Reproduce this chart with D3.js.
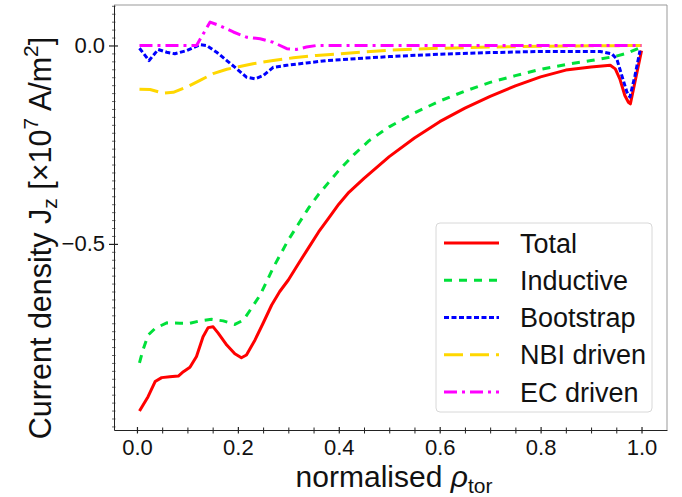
<!DOCTYPE html>
<html>
<head>
<meta charset="utf-8">
<script src="https://cdn.jsdelivr.net/npm/d3@7"></script>
<style>
  html, body { margin: 0; padding: 0; background: #fff; }
  svg { display: block; font-family: "Liberation Sans", Arial, sans-serif; }
</style>
</head>
<body>
<svg id="chart" width="682" height="497"></svg>
<script>
// ---------------- data ----------------
const seriesNames = ["Total", "Inductive", "Bootstrap", "NBI driven", "EC driven"];

const totalRho = [0.005,0.022,0.036,0.049,0.065,0.082,0.092,0.105,0.118,0.131,0.141,0.151,0.161,0.178,0.194,0.207,0.217,0.234,0.25,0.267,0.283,0.30,0.32,0.34,0.36,0.38,0.40,0.42,0.45,0.50,0.55,0.60,0.65,0.70,0.75,0.80,0.85,0.90,0.938,0.948,0.957,0.967,0.974,0.978,0.987,1.0];
const totalJ   = [-0.921,-0.885,-0.847,-0.837,-0.835,-0.833,-0.822,-0.811,-0.784,-0.734,-0.711,-0.709,-0.725,-0.755,-0.777,-0.787,-0.78,-0.742,-0.70,-0.654,-0.62,-0.591,-0.55,-0.51,-0.47,-0.435,-0.40,-0.37,-0.335,-0.28,-0.233,-0.192,-0.158,-0.128,-0.102,-0.079,-0.062,-0.054,-0.05,-0.059,-0.084,-0.126,-0.143,-0.147,-0.092,-0.013];

const inductiveRho = [0.005,0.012,0.022,0.036,0.059,0.085,0.105,0.125,0.148,0.171,0.194,0.211,0.227,0.244,0.257,0.27,0.285,0.30,0.32,0.34,0.36,0.38,0.40,0.43,0.46,0.50,0.55,0.60,0.65,0.70,0.75,0.80,0.85,0.90,0.95,0.97,1.0];
const inductiveJ   = [-0.80,-0.767,-0.73,-0.713,-0.699,-0.70,-0.70,-0.694,-0.69,-0.694,-0.703,-0.692,-0.662,-0.629,-0.595,-0.56,-0.525,-0.49,-0.45,-0.41,-0.375,-0.345,-0.315,-0.275,-0.24,-0.205,-0.17,-0.14,-0.115,-0.093,-0.076,-0.06,-0.048,-0.038,-0.027,-0.02,-0.004];

const bootstrapRho = [0.005,0.024,0.042,0.059,0.075,0.098,0.125,0.138,0.158,0.178,0.198,0.217,0.234,0.25,0.27,0.297,0.336,0.376,0.402,0.45,0.5,0.6,0.7,0.8,0.918,0.941,0.951,0.961,0.971,0.977,0.987,0.997];
const bootstrapJ   = [-0.007,-0.038,-0.01,-0.017,-0.021,-0.013,0.002,0,-0.017,-0.038,-0.059,-0.08,-0.084,-0.076,-0.055,-0.05,-0.044,-0.038,-0.036,-0.032,-0.028,-0.022,-0.018,-0.015,-0.015,-0.021,-0.034,-0.076,-0.117,-0.130,-0.076,-0.013];

const nbiRho = [0.005,0.026,0.052,0.072,0.098,0.125,0.151,0.178,0.204,0.23,0.27,0.31,0.356,0.40,0.45,0.50,0.60,0.70,0.80,0.90,1.0];
const nbiJ   = [-0.11,-0.111,-0.12,-0.118,-0.105,-0.088,-0.071,-0.06,-0.053,-0.046,-0.038,-0.031,-0.025,-0.021,-0.016,-0.012,-0.007,-0.004,-0.002,-0.001,0];

const ecRho = [0.005,0.118,0.145,0.164,0.191,0.217,0.244,0.27,0.297,0.316,0.336,0.356,1.0];
const ecJ   = [0,0,0.059,0.05,0.034,0.021,0.017,0.008,-0.008,-0.01,-0.004,0,0];

const xTickValues = [0, 0.2, 0.4, 0.6, 0.8, 1.0];
const yTickValues = [0, -0.5];

// ---------------- layout ----------------
const svg = d3.select("#chart");
const L = 114, R = 667, T = 5, B = 430;

const x = d3.scaleLinear().domain([-0.0455, 1.0505]).range([L, R]);
const y = d3.scaleLinear().domain([-0.969, 0.102]).range([B, T]);

svg.append("rect").attr("width", 682).attr("height", 497).attr("fill", "#fff");

const series = [
  {name: seriesNames[0], xs: totalRho, ys: totalJ, color: "#ff0000", dash: null},
  {name: seriesNames[1], xs: inductiveRho, ys: inductiveJ, color: "#00e03a", dash: "8,7"},
  {name: seriesNames[2], xs: bootstrapRho, ys: bootstrapJ, color: "#0000ff", dash: "5,2.5"},
  {name: seriesNames[3], xs: nbiRho, ys: nbiJ, color: "#ffd700", dash: "19,7"},
  {name: seriesNames[4], xs: ecRho, ys: ecJ, color: "#ff00ff", dash: "13,5,3,5"}
];

const line = d3.line().x(d => x(d[0])).y(d => y(d[1]));

const plot = svg.append("g");
series.forEach(s => {
  const pts = s.xs.map((v, i) => [v, s.ys[i]]);
  plot.append("path")
    .datum(pts)
    .attr("d", line)
    .attr("fill", "none")
    .attr("stroke", s.color)
    .attr("stroke-width", 3)
    .attr("stroke-linejoin", "round")
    .attr("stroke-dasharray", s.dash);
});

// frame
svg.append("line").attr("x1", L).attr("x2", R).attr("y1", T).attr("y2", T).attr("stroke", "#999").attr("stroke-width", 1);
svg.append("line").attr("x1", R).attr("x2", R).attr("y1", T).attr("y2", B).attr("stroke", "#999").attr("stroke-width", 1);

// x axis
const xAxisG = svg.append("g").attr("transform", `translate(0,${B})`);
const xMinor = d3.range(0, 21).map(i => i * 0.05).filter(v => Math.abs(v * 5 - Math.round(v * 5)) > 1e-6);
xAxisG.append("g").call(d3.axisBottom(x).tickValues(xMinor).tickSize(3.5).tickFormat(""))
  .call(g => g.select(".domain").remove())
  .call(g => g.selectAll(".tick line").attr("y1", -2.5).attr("stroke", "#222"));
xAxisG.append("g").call(d3.axisBottom(x).tickValues(xTickValues).tickSize(3.5).tickSizeOuter(0).tickFormat(d3.format(".1f")))
  .call(g => g.select(".domain").attr("stroke", "#222"))
  .call(g => g.selectAll(".tick line").attr("y1", -3).attr("stroke", "#222").attr("stroke-width", 1.2))
  .call(g => g.selectAll(".tick text").attr("y", 25).attr("dy", 0).attr("font-size", 22)
     .attr("font-family", "Liberation Sans, Arial, sans-serif").attr("fill", "#111"));

// y axis
const yAxisG = svg.append("g").attr("transform", `translate(${L},0)`);
const yMinor = d3.range(-48, 6).map(i => i * 0.02).filter(v => Math.abs(v * 2 - Math.round(v * 2)) > 1e-6);
yAxisG.append("g").call(d3.axisLeft(y).tickValues(yMinor).tickSize(2).tickFormat(""))
  .call(g => g.select(".domain").remove())
  .call(g => g.selectAll(".tick line").attr("x1", 1.5).attr("stroke", "#444").attr("stroke-width", 0.8));
yAxisG.append("g").call(d3.axisLeft(y).tickValues(yTickValues).tickSize(5).tickSizeOuter(0)
    .tickFormat(d => d === 0 ? "0.0" : d3.format(".1f")(d).replace("-", "\u2212")))
  .call(g => g.select(".domain").attr("stroke", "#222"))
  .call(g => g.selectAll(".tick line").attr("x1", 4).attr("stroke", "#222").attr("stroke-width", 1.2))
  .call(g => g.selectAll(".tick text").attr("x", -9).attr("font-size", 22)
     .attr("font-family", "Liberation Sans, Arial, sans-serif").attr("fill", "#111"));

// axis labels
const xl = svg.append("text")
  .attr("x", 394).attr("y", 487)
  .attr("text-anchor", "middle")
  .attr("font-size", 30).attr("fill", "#111");
xl.append("tspan").text("normalised ");
xl.append("tspan").attr("font-style", "italic").text("\u03C1");
xl.append("tspan").attr("font-size", 21).attr("dy", 6).text("tor");

const yl = svg.append("text")
  .attr("transform", "translate(51,238) rotate(-90)")
  .attr("text-anchor", "middle")
  .attr("font-size", 30.5).attr("fill", "#111");
yl.append("tspan").text("Current density J");
yl.append("tspan").attr("font-size", 21).attr("dy", 6).text("z");
yl.append("tspan").attr("dy", -6).text(" [\u00D710");
yl.append("tspan").attr("font-size", 21).attr("dy", -13).text("7");
yl.append("tspan").attr("dy", 13).text(" A/m");
yl.append("tspan").attr("font-size", 21).attr("dy", -13).text("2");
yl.append("tspan").attr("dy", 13).text("]");

// legend
const lg = svg.append("g");
lg.append("rect")
  .attr("x", 436).attr("y", 223).attr("width", 216).attr("height", 189)
  .attr("rx", 4).attr("fill", "#fff").attr("fill-opacity", 0.85)
  .attr("stroke", "#d8d8d8").attr("stroke-width", 1);
const legY = d3.scalePoint().domain(seriesNames).range([243, 392]);
series.forEach(s => {
  const yy = legY(s.name);
  lg.append("line").attr("x1", 444).attr("x2", 499).attr("y1", yy).attr("y2", yy)
    .attr("stroke", s.color).attr("stroke-width", 3).attr("stroke-dasharray", s.dash);
  lg.append("text").attr("x", 520).attr("y", yy).attr("dy", "0.36em")
    .attr("font-size", 27).attr("fill", "#111").text(s.name);
});
</script>
</body>
</html>
